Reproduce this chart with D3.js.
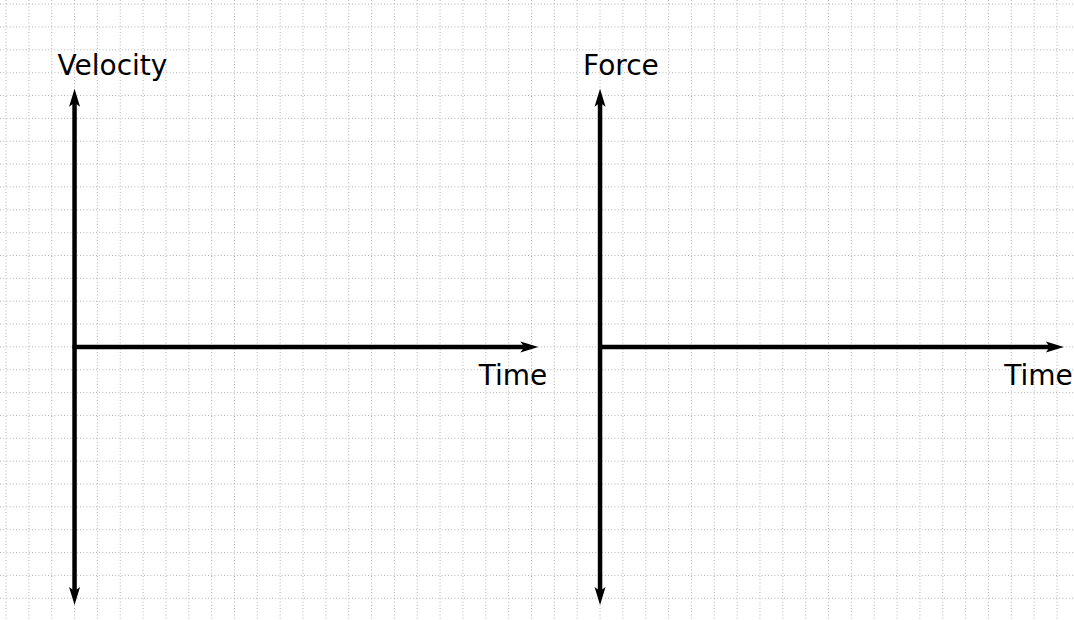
<!DOCTYPE html>
<html>
<head>
<meta charset="utf-8">
<script src="https://cdn.jsdelivr.net/npm/d3@7"></script>
<style>
  html, body { margin: 0; padding: 0; background: #fff; }
  svg { display: block; }
  .label { font-family: "DejaVu Sans", Verdana, sans-serif; font-size: 28px; fill: #000; }
</style>
</head>
<body>
<div id="chart"></div>
<script>
// Two empty sketch axes on graph paper: velocity vs time and force vs time.
const WIDTH = 1074, HEIGHT = 620;

const panelTitles = ["Velocity", "Force"];
const timeLabel = "Time";
const panelOriginCols = [3, 26];     // grid column where each vertical axis sits
const originRow = 15;                // grid row of the time axis
const timeExtent = [0, 20.3];        // time axis length, in grid cells
const valueExtent = [-11.3, 11.3];   // value axis span, in grid cells
const gridCols = d3.range(0, 47);
const gridRows = d3.range(0, 28);

const svg = d3.select("#chart")
    .append("svg")
    .attr("width", WIDTH)
    .attr("height", HEIGHT);

// Graph paper: one cell is about 22.85px.
const colScale = d3.scaleLinear().domain([0, 46]).range([6, 1057]);
const rowScale = d3.scaleLinear().domain([0, 25]).range([4.15, 575.4]);
const cell = colScale(1) - colScale(0);

const grid = svg.append("g")
    .attr("stroke", "#a0a0a0")
    .attr("stroke-width", 0.8)
    .attr("stroke-dasharray", "1 2.2");

grid.selectAll("line.v")
    .data(gridCols)
    .join("line")
    .attr("class", "v")
    .attr("x1", d => colScale(d))
    .attr("x2", d => colScale(d))
    .attr("y1", 0)
    .attr("y2", HEIGHT);

grid.selectAll("line.h")
    .data(gridRows)
    .join("line")
    .attr("class", "h")
    .attr("x1", 0)
    .attr("x2", WIDTH)
    .attr("y1", d => rowScale(d))
    .attr("y2", d => rowScale(d));

// Arrowhead drawn at (x, y) pointing along angle (radians).
const arrowHead = (g, x, y, angle) => {
    const len = 18, half = 5.5;
    const pts = [[0, 0], [-len, -half], [-len + 4, 0], [-len, half]];
    g.append("polygon")
        .attr("points", pts.map(p => p.join(",")).join(" "))
        .attr("fill", "#000")
        .attr("transform", `translate(${x},${y}) rotate(${angle * 180 / Math.PI})`);
};

panelTitles.forEach((title, i) => {
    const x0 = colScale(panelOriginCols[i]);
    const y0 = rowScale(originRow);

    const xScale = d3.scaleLinear()
        .domain(timeExtent)
        .range([x0, x0 + timeExtent[1] * cell]);

    const yScale = d3.scaleLinear()
        .domain(valueExtent)
        .range([y0 - valueExtent[0] * cell, y0 - valueExtent[1] * cell]);

    const g = svg.append("g");

    // Vertical value axis with arrows at both ends.
    g.append("line")
        .attr("x1", xScale(0)).attr("x2", xScale(0))
        .attr("y1", yScale(valueExtent[1]) + 10)
        .attr("y2", yScale(valueExtent[0]) - 10)
        .attr("stroke", "#000")
        .attr("stroke-width", 4.5);
    arrowHead(g, xScale(0), yScale(valueExtent[1]), -Math.PI / 2);
    arrowHead(g, xScale(0), yScale(valueExtent[0]), Math.PI / 2);

    // Horizontal time axis with arrow at the right end.
    g.append("line")
        .attr("x1", xScale(0) - 2)
        .attr("x2", xScale(timeExtent[1]) - 10)
        .attr("y1", yScale(0)).attr("y2", yScale(0))
        .attr("stroke", "#000")
        .attr("stroke-width", 4.5);
    arrowHead(g, xScale(timeExtent[1]), yScale(0), 0);

    g.append("text")
        .attr("class", "label")
        .attr("x", xScale(0) - 17)
        .attr("y", yScale(valueExtent[1]) - 14)
        .text(title);

    g.append("text")
        .attr("class", "label")
        .attr("text-anchor", "end")
        .attr("x", xScale(timeExtent[1]) + 9)
        .attr("y", yScale(0) + 38)
        .text(timeLabel);
});
</script>
</body>
</html>
